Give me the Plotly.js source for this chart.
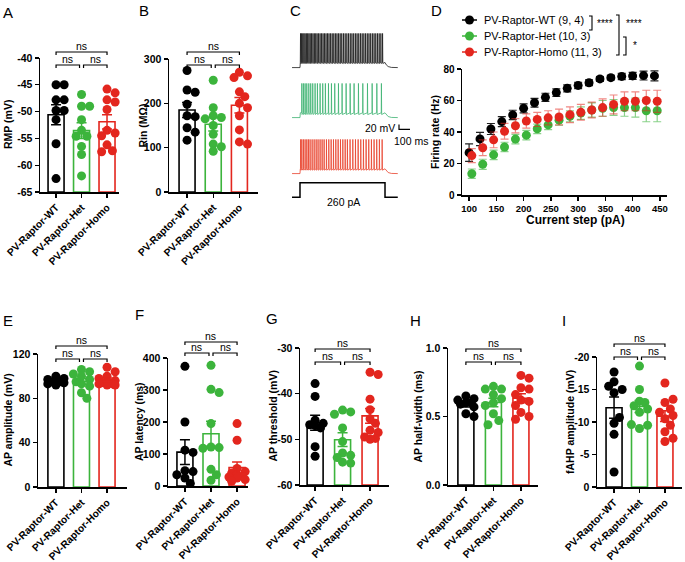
<!DOCTYPE html>
<html><head><meta charset="utf-8">
<script src="https://cdn.plot.ly/plotly-3.0.1.min.js"></script>
<style>html,body{margin:0;padding:0;background:#fff}#chart{width:685px;height:562px}</style>
</head><body><div id="chart"></div>
<script>
// ---------------- DATA ----------------
const groups = ['PV-Raptor-WT', 'PV-Raptor-Het', 'PV-Raptor-Homo'];
const legendLabels = ['PV-Raptor-WT (9, 4)', 'PV-Raptor-Het (10, 3)', 'PV-Raptor-Homo (11, 3)'];

// A: RMP (mV)
const rmpWT = [-45.0, -45.0, -47.8, -47.8, -49.8, -49.8, -51.5, -56.0, -62.5];
const rmpHet = [-46.8, -49.0, -49.0, -51.5, -53.5, -54.6, -54.6, -56.5, -58.0, -62.0];
const rmpHomo = [-45.8, -46.5, -47.8, -48.2, -49.6, -53.5, -54.0, -54.5, -56.2, -57.3, -57.5];
const rmpTicks = [-65, -60, -55, -50, -45, -40];
// B: Rin (MOhm)
const rinWT = [274, 225, 230, 198, 172, 170, 145, 135, 117];
const rinHet = [252, 190, 172, 168, 165, 150, 130, 108, 102, 92];
const rinHomo = [270, 262, 258, 226, 215, 200, 190, 172, 140, 113, 108];
const rinTicks = [0, 100, 200, 300];
// E: AP amplitude (mV)
const ampWT = [100, 98, 97, 96, 95, 95, 94, 93, 92];
const ampHet = [106, 104, 102, 100, 97, 95, 93, 91, 85, 80];
const ampHomo = [108, 104, 100, 98, 96, 95, 94, 93, 92, 92, 93];
const ampTicks = [0, 40, 80, 120];
// F: AP latency (ms)
const latWT = [374, 200, 112, 105, 48, 45, 35, 25, 8];
const latHet = [377, 302, 292, 195, 122, 120, 118, 52, 35, 18];
const latHomo = [195, 143, 55, 45, 40, 35, 30, 28, 25, 20, 15];
const latTicks = [0, 100, 200, 300, 400];
// G: AP threshold (mV)
const thrWT = [-37.8, -40.6, -45.8, -46.5, -46.8, -47.0, -47.5, -51.6, -53.7];
const thrHet = [-43.6, -44.0, -44.5, -47.5, -50.5, -53.0, -53.5, -54.0, -55.0, -55.2];
const thrHomo = [-35.3, -35.8, -41.2, -43.5, -45.5, -46.5, -48.0, -48.5, -49.5, -49.8, -50.0];
const thrTicks = [-60, -50, -40, -30];
// H: AP half-width (ms)
const hwWT = [0.65, 0.63, 0.62, 0.60, 0.60, 0.59, 0.57, 0.52, 0.50];
const hwHet = [0.72, 0.70, 0.70, 0.66, 0.63, 0.60, 0.58, 0.52, 0.47, 0.44];
const hwHomo = [0.80, 0.78, 0.71, 0.70, 0.66, 0.62, 0.61, 0.58, 0.53, 0.50, 0.48];
const hwTicks = [0, 0.5, 1.0];
// I: fAHP amplitude (mV)
const fahpWT = [-17.7, -16.2, -15.5, -15.0, -14.5, -10.7, -9.8, -8.1, -2.3];
const fahpHet = [-18.6, -15.0, -13.2, -13.0, -12.5, -12.0, -11.5, -9.6, -9.5, -9.0];
const fahpHomo = [-16.0, -13.5, -13.0, -12.0, -11.5, -11.0, -10.5, -9.5, -8.5, -7.5, -7.0];
const fahpTicks = [0, -5, -10, -15, -20];

// D: firing rate vs current step
const currentSteps = [100, 120, 140, 160, 180, 200, 220, 240, 260, 280, 300, 320, 340, 360, 380, 400, 420, 440];
const frWT = [26.9, 35.6, 41.9, 46.6, 50.8, 55.0, 58.6, 62.0, 65.0, 67.7, 69.6, 71.3, 73.7, 74.5, 75.3, 75.6, 75.8, 75.6];
const frWTsem = [5.5, 4.2, 3.5, 3.2, 3.0, 2.8, 2.8, 2.6, 2.4, 2.2, 2.0, 1.8, 1.5, 1.5, 2.0, 2.2, 2.8, 3.2];
const frHet = [13.5, 19.5, 25.5, 30.5, 35.5, 38.0, 42.0, 44.5, 47.5, 50.0, 52.0, 54.0, 55.0, 55.5, 55.5, 55.5, 53.5, 53.5];
const frHetSem = [3.0, 3.2, 3.0, 3.0, 3.0, 3.0, 3.0, 3.0, 3.2, 3.5, 4.0, 4.5, 5.0, 5.0, 5.5, 6.0, 7.0, 7.0];
const frHomo = [25.0, 30.0, 35.0, 40.5, 44.0, 47.0, 48.0, 49.0, 49.5, 51.0, 52.5, 54.0, 55.5, 57.5, 59.5, 59.5, 60.0, 59.5];
const frHomoSem = [4.5, 5.0, 5.0, 5.0, 4.5, 4.5, 4.5, 4.5, 5.0, 5.0, 5.0, 5.0, 5.5, 6.0, 6.0, 6.0, 6.5, 7.0];
const frXTicks = [100, 150, 200, 250, 300, 350, 400, 450];
const frYTicks = [0, 20, 40, 60, 80];

// C: example traces (spike times in ms from step onset), 260 pA step
const stepAmp = 260;      // pA
const stepDur = 800;      // ms
const spikesWT = [4, 14, 25, 36, 47, 59, 71, 83, 95, 108, 121, 134, 147, 160, 174, 188, 202, 216, 230, 244, 258, 272, 287, 302, 317, 332, 347, 362, 377, 392, 408, 424, 440, 456, 472, 488, 504, 520, 536, 552, 568, 584, 600, 616, 632, 648, 664, 680, 696, 712, 728, 744, 760, 776];
const spikesHet = [16, 31, 47, 63, 82, 100, 119, 141, 163, 188, 213, 238, 267, 295, 326, 361, 395, 433, 471, 508, 549, 590, 634, 678, 722, 765];
const spikesHomo = [5, 16, 31, 47, 63, 78, 94, 113, 132, 151, 169, 188, 207, 226, 248, 270, 292, 314, 336, 358, 380, 402, 424, 445, 470, 496, 521, 546, 571, 596, 621, 646, 671, 696, 721, 746, 772];

// ---------------- STYLE / LAYOUT ----------------
const W = 685, H = 562;
const X = p => p / W, Y = p => 1 - p / H;
const FONT = 'Arial, "Liberation Sans", sans-serif';
const colors = ['#000000', '#3cb43c', '#e3261e'];
const lightColors = ['#222222', 'rgba(60,180,60,0.6)', 'rgba(227,38,30,0.55)'];
const traceColors = ['#1a1a1a', '#3cb371', '#e8412c'];

const layout = {
  width: W, height: H, margin: {l: 0, r: 0, t: 0, b: 0},
  paper_bgcolor: '#ffffff', plot_bgcolor: 'rgba(0,0,0,0)', showlegend: false,
  font: {family: FONT, color: '#000'}, shapes: [], annotations: []
};
const traces = [];

function ann(text, xpx, ypx, o) {
  o = o || {};
  layout.annotations.push(Object.assign({
    text: text, xref: 'paper', yref: 'paper', x: X(xpx), y: Y(ypx), showarrow: false,
    xanchor: 'center', yanchor: 'middle', font: {family: FONT, size: 10.5, color: '#000'}
  }, o));
}
function pathShape(pts, color, width) {
  const d = pts.map((p, i) => (i ? 'L' : 'M') + X(p[0]).toFixed(5) + ',' + Y(p[1]).toFixed(5)).join(' ');
  layout.shapes.push({type: 'path', xref: 'paper', yref: 'paper', path: d, line: {color: color || '#000', width: width || 1.2}});
}
const mean = a => a.reduce((s, v) => s + v, 0) / a.length;
const sem = a => { const m = mean(a); return Math.sqrt(a.reduce((s, v) => s + (v - m) * (v - m), 0) / (a.length - 1)) / Math.sqrt(a.length); };

// compact beeswarm offsets (pixels) so dots overlap a little, Prism-style
function swarm(vals, pxY, d) {
  const idx = vals.map((v, i) => i).sort((a, b) => vals[b] - vals[a]);
  const placed = [], off = new Array(vals.length).fill(0);
  const s = d * 0.6, cands = [0, s, -s, 1.5 * s, -1.5 * s];
  for (const i of idx) {
    const y = vals[i] * pxY;
    let best = 0, bestD = -1;
    for (const c of cands) {
      let md = Infinity;
      for (const p of placed) md = Math.min(md, Math.hypot(p.x - c, p.y - y));
      if (md >= d * 0.78) { best = c; bestD = md; break; }
      if (md > bestD) { bestD = md; best = c; }
    }
    placed.push({x: best, y: y}); off[i] = best;
  }
  return off;
}

const axisCommon = {showgrid: false, zeroline: false, showline: true, linecolor: '#000', linewidth: 1.5,
  ticks: 'outside', ticklen: 4, tickwidth: 1.3, tickcolor: '#000', fixedrange: true};

function barPanel(p) {
  const s = p.n === 1 ? '' : String(p.n);
  const xr = 'x' + s, yr = 'y' + s;
  const pxCat = (p.xDom[1] - p.xDom[0]) / (p.xRange[1] - p.xRange[0]);
  const pxY = (p.yDom[1] - p.yDom[0]) / Math.abs(p.yRange[1] - p.yRange[0]);
  layout['xaxis' + s] = Object.assign({}, axisCommon, {
    domain: [X(p.xDom[0]), X(p.xDom[1])], range: p.xRange, anchor: yr,
    tickvals: [0, 1, 2], ticktext: groups, tickangle: -45,
    tickfont: {family: FONT, size: 10.2, weight: 'bold', color: '#000'}
  });
  layout['yaxis' + s] = Object.assign({}, axisCommon, {
    domain: [Y(p.yDom[1]), Y(p.yDom[0])], range: p.yRange, anchor: xr,
    tickvals: p.yticks, ticktext: p.yticks.map(p.fmt || (v => String(v))),
    tickfont: {family: FONT, size: 10.5, weight: 'bold', color: '#000'}
  });
  const base = p.base || 0;
  const means = p.data.map(mean), sems = p.data.map(sem);
  traces.push({type: 'bar', xaxis: xr, yaxis: yr, x: [0, 1, 2], y: means.map(m => m - base),
    base: [base, base, base], width: 16 / pxCat, hoverinfo: 'skip',
    marker: {color: 'rgba(255,255,255,0)', line: {color: colors, width: 1.6}}});
  p.data.forEach((vals, g) => {
    const off = swarm(vals, pxY, 9);
    traces.push({type: 'scatter', mode: 'markers', xaxis: xr, yaxis: yr, cliponaxis: false,
      x: vals.map((v, i) => g + off[i] / pxCat), y: vals,
      marker: {size: 9, color: colors[g], line: {width: 0}}});
  });
  p.data.forEach((vals, g) => {
    traces.push({type: 'scatter', mode: 'markers', xaxis: xr, yaxis: yr, cliponaxis: false,
      x: [g], y: [means[g]], marker: {size: 1, opacity: 0},
      error_y: {type: 'data', array: [sems[g]], visible: true, color: colors[g], thickness: 1.5, width: 5}});
  });
  ann(p.letter, p.lx, p.ly, {font: {family: FONT, size: 15, color: '#000'}});
  ann(p.title, p.tx, (p.yDom[0] + p.yDom[1]) / 2, {textangle: -90, font: {family: FONT, size: 10.5, weight: 'bold', color: '#000'}});
  const cx = i => p.xDom[0] + (i - p.xRange[0]) * pxCat;
  const br = (x1, x2, y) => { pathShape([[x1, y + 3], [x1, y], [x2, y], [x2, y + 3]], '#000', 1.2); ann('ns', (x1 + x2) / 2, y - 6, {font: {family: FONT, size: 10.5, color: '#000'}}); };
  br(cx(0), cx(1) - 2, p.inner);
  br(cx(1) + 2, cx(2), p.inner);
  br(cx(0), cx(2), p.outer);
}

const panels = [
  {n: 1, letter: 'A', lx: 8, ly: 12, xDom: [40, 119], yDom: [58, 192], xRange: [-0.63, 2.47], yRange: [-65, -40], base: -65,
   yticks: rmpTicks, title: 'RMP (mV)', tx: 8, data: [rmpWT, rmpHet, rmpHomo], inner: 65, outer: 52},
  {n: 2, letter: 'B', lx: 144, ly: 11, xDom: [169, 258], yDom: [59, 192], xRange: [-0.69, 2.71], yRange: [0, 300],
   yticks: rinTicks, title: 'Rin (M\u03a9)', tx: 142, data: [rinWT, rinHet, rinHomo], inner: 65, outer: 52},
  {n: 4, letter: 'E', lx: 8, ly: 320, xDom: [38, 127], yDom: [354, 487], xRange: [-0.7, 2.78], yRange: [0, 120],
   yticks: ampTicks, title: 'AP amplitude (mV)', tx: 7, data: [ampWT, ampHet, ampHomo], inner: 359, outer: 346},
  {n: 5, letter: 'F', lx: 139, ly: 314, xDom: [168, 248], yDom: [358, 486], xRange: [-0.65, 2.42], yRange: [0, 400],
   yticks: latTicks, title: 'AP latency (ms)', tx: 139, data: [latWT, latHet, latHomo], inner: 353, outer: 342},
  {n: 6, letter: 'G', lx: 272, ly: 318, xDom: [300, 389], yDom: [348, 485], xRange: [-0.55, 2.69], yRange: [-60, -30], base: -60,
   yticks: thrTicks, title: 'AP threshold (mV)', tx: 272, data: [thrWT, thrHet, thrHomo], inner: 362, outer: 349},
  {n: 7, letter: 'H', lx: 415, ly: 320, xDom: [448, 538], yDom: [348, 485], xRange: [-0.65, 2.62], yRange: [0, 1],
   yticks: hwTicks, fmt: v => v.toFixed(1), title: 'AP half-width (ms)', tx: 417, data: [hwWT, hwHet, hwHomo], inner: 362, outer: 349},
  {n: 8, letter: 'I', lx: 564, ly: 320, xDom: [597, 682], yDom: [357, 487], xRange: [-0.67, 2.67], yRange: [0, -20],
   yticks: fahpTicks, title: 'fAHP amplitude (mV)', tx: 570, data: [fahpWT, fahpHet, fahpHomo], inner: 357, outer: 344}
];
panels.forEach(barPanel);

// ---------------- D ----------------
layout.xaxis3 = Object.assign({}, axisCommon, {domain: [X(462), X(667)], range: [87, 463], anchor: 'y3',
  tickvals: frXTicks, ticktext: frXTicks.map(String), tickfont: {family: FONT, size: 9.5, weight: 'bold', color: '#000'}});
layout.yaxis3 = Object.assign({}, axisCommon, {domain: [Y(195), Y(69)], range: [0, 80], anchor: 'x3',
  tickvals: frYTicks, ticktext: frYTicks.map(String), tickfont: {family: FONT, size: 10, weight: 'bold', color: '#000'}});
const frData = [[frWT, frWTsem], [frHet, frHetSem], [frHomo, frHomoSem]];
const frShift = [0, 5, 5];
frData.forEach((d, g) => {
  traces.push({type: 'scatter', mode: 'markers', xaxis: 'x3', yaxis: 'y3', cliponaxis: false,
    x: currentSteps.map(s => s + frShift[g]), y: d[0],
    marker: {size: 9, color: colors[g]},
    error_y: {type: 'data', array: d[1], visible: true, color: lightColors[g], thickness: 1.2, width: 4}});
});
ann('D', 436, 10, {font: {family: FONT, size: 15, color: '#000'}});
ann('Firing rate (Hz)', 435, 132, {textangle: -90, font: {family: FONT, size: 10.5, weight: 'bold', color: '#000'}});
ann('Current step (pA)', 575, 220, {font: {family: FONT, size: 12, weight: 'bold', color: '#000'}});
const legY = [20, 36, 52];
legendLabels.forEach((lab, g) => {
  pathShape([[462, legY[g]], [477, legY[g]]], colors[g], 1.5);
  layout.shapes.push({type: 'circle', xref: 'paper', yref: 'paper', x0: X(465), x1: X(474), y0: Y(legY[g] + 4.5), y1: Y(legY[g] - 4.5),
    fillcolor: colors[g], line: {width: 0}});
  ann(lab, 482, legY[g], {xanchor: 'left', font: {family: FONT, size: 11, color: '#000'}});
});
pathShape([[589, 16], [592, 16], [592, 30], [589, 30]], '#000', 1.1);
ann('****', 595, 24, {xanchor: 'left', font: {family: FONT, size: 10, color: '#000'}});
pathShape([[616, 15], [619, 15], [619, 55], [616, 55]], '#000', 1.1);
ann('****', 624, 24, {xanchor: 'left', font: {family: FONT, size: 10, color: '#000'}});
pathShape([[623, 37], [626, 37], [626, 55], [623, 55]], '#000', 1.1);
ann('*', 631, 46, {xanchor: 'left', font: {family: FONT, size: 10, color: '#000'}});

// ---------------- C ----------------
function buildV(spikes, floor, peak, trough) {
  const t = [-75, 0, 3], v = [-70, -70, floor];
  for (const s of spikes) { t.push(s - 0.5, s + 1, s + 3.5); v.push(floor, peak, trough); }
  t.push(stepDur, stepDur + 12, stepDur + 30, stepDur + 60, stepDur + 120);
  v.push(floor, -62, -67, -69.5, -70);
  return {t, v};
}
const hidden = {visible: false, fixedrange: true};
layout.xaxis9 = Object.assign({}, hidden, {domain: [X(290), X(400)], range: [-94, 941], anchor: 'y9'});
const cRows = [[71, 30], [121, 80], [177, 136]];
const cSpikes = [spikesWT, spikesHet, spikesHomo];
const cShape = [[-55, 30, -58], [-56, 30, -61], [-56, 30, -60]];
cRows.forEach((r, g) => {
  const k = 9 + g;
  layout['yaxis' + k] = Object.assign({}, hidden, {domain: [Y(r[0]), Y(r[1])], range: [-80, 40], anchor: 'x9'});
  const tr = buildV(cSpikes[g], cShape[g][0], cShape[g][1], cShape[g][2]);
  traces.push({type: 'scatter', mode: 'lines', xaxis: 'x9', yaxis: 'y' + k, x: tr.t, y: tr.v,
    line: {color: traceColors[g], width: 0.8}, cliponaxis: false});
});
layout.yaxis12 = Object.assign({}, hidden, {domain: [Y(199), Y(181)], range: [-30, 290], anchor: 'x9'});
traces.push({type: 'scatter', mode: 'lines', xaxis: 'x9', yaxis: 'y12', cliponaxis: false,
  x: [-75, 0, 0, stepDur, stepDur, stepDur + 120], y: [0, 0, stepAmp, stepAmp, 0, 0],
  line: {color: '#000', width: 1.5}});
ann('C', 295, 10, {font: {family: FONT, size: 15, color: '#000'}});
ann(stepAmp + ' pA', 343, 202, {font: {family: FONT, size: 10.5, color: '#000'}});
ann('20 mV', 397, 128, {xanchor: 'right', font: {family: FONT, size: 10.5, color: '#000'}});
ann('100 ms', 411, 141, {font: {family: FONT, size: 10.5, color: '#000'}});
pathShape([[399, 124.5], [399, 129.3], [410, 129.3]], '#000', 1.2);

Plotly.newPlot('chart', traces, layout, {staticPlot: true, displayModeBar: false});
</script>
</body></html>
